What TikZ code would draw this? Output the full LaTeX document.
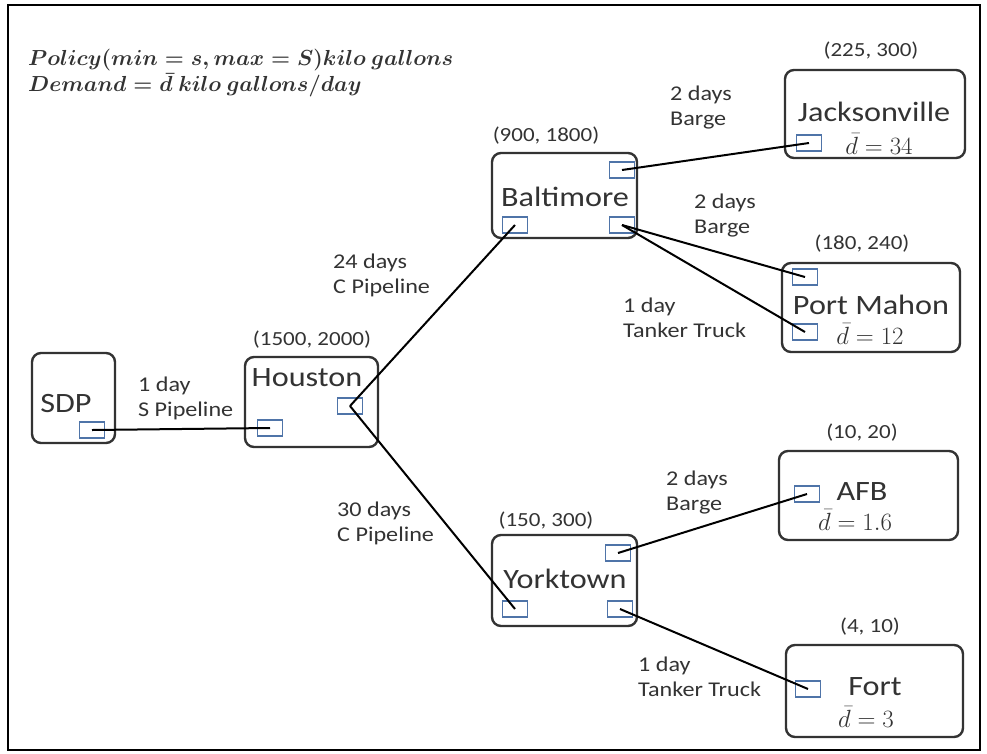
\documentclass[tikz,border=0pt]{standalone}
\usepackage{fontspec}
\setmainfont{Carlito}[FakeStretch=1.15]
\definecolor{boxc}{HTML}{333333}
\definecolor{portc}{HTML}{4F74A8}
\definecolor{txt}{HTML}{333333}
\begin{document}
\begin{tikzpicture}[x=1pt,y=-1pt,
  site/.style={draw=boxc, line width=2.4pt, rounded corners=9pt, fill=white, inner sep=0pt},
  port/.style={draw=portc, line width=1.8pt, fill=white, minimum width=25pt, minimum height=16pt, inner sep=0pt},
  link/.style={line width=2pt, black},
  sitename/.style={font=\fontsize{28}{32}\selectfont, text=txt, inner sep=0pt},
  policy/.style={font=\fontsize{20}{24}\selectfont, text=txt, inner sep=0pt},
  lbl/.style={font=\fontsize{21}{25}\selectfont, text=txt, align=left, anchor=west, inner sep=0pt},
  dem/.style={font=\fontsize{24}{28}\selectfont, text=txt, inner sep=0pt},
  legend/.style={font=\fontsize{20.74}{24}\selectfont\boldmath, text=txt, align=left, anchor=north west, inner sep=0pt}]

\useasboundingbox (0,0) rectangle (987,753);
\draw[line width=2pt, black] (8,5) rectangle (980,750);

% legend
\node[legend] (legend) at (28,48) {\scalebox{1.05}{\begin{tabular}{@{}l@{}}$Policy(min=s, max=S) kilo\ gallons$\\ $Demand=\bar{d}\ kilo\ gallons/day$\end{tabular}}};

% sites
\node[site, minimum width=83pt, minimum height=90pt] (sdp) at (73.5,398) {};
\node[site, minimum width=133pt, minimum height=90pt] (hou) at (311.5,402) {};
\node[site, minimum width=145pt, minimum height=85pt] (bal) at (564.5,195.5) {};
\node[site, minimum width=145pt, minimum height=91pt] (york) at (564.5,580.5) {};
\node[site, minimum width=180pt, minimum height=88pt] (jax) at (875,114) {};
\node[site, minimum width=178pt, minimum height=89pt] (pm) at (871,307.5) {};
\node[site, minimum width=179pt, minimum height=89pt] (afb) at (868.5,495.5) {};
\node[site, minimum width=177pt, minimum height=92pt] (fort) at (874.5,691) {};

% site names
\node[sitename] (sdpname) at (66,404) {SDP};
\node[sitename] (houname) at (307,378) {Houston};
\node[sitename] (balname) at (565,197) {Baltimore};
\node[sitename] (yorkname) at (565,579) {Yorktown};
\node[sitename] (jaxname) at (874,112) {Jacksonville};
\node[sitename] (pmname) at (871,305) {Port Mahon};
\node[sitename] (afbname) at (862,492) {AFB};
\node[sitename] (fortname) at (875,687) {Fort};

% policy levels
\node[policy] (houcap) at (312,340) {(1500, 2000)};
\node[policy] (balcap) at (546,136) {(900, 1800)};
\node[policy] (yorkcap) at (546,521) {(150, 300)};
\node[policy] (jaxcap) at (871,51) {(225, 300)};
\node[policy] (pmcap) at (862,244) {(180, 240)};
\node[policy] (afbcap) at (862,433) {(10, 20)};
\node[policy] (fortcap) at (870,627) {(4, 10)};

% demand rates
\node[dem] (jaxdem) at (879,144) {$\bar{d}=34$};
\node[dem] (pmdem) at (870,334) {$\bar{d}=12$};
\node[dem] (afbdem) at (855,520) {$\bar{d}=1.6$};
\node[dem] (fortdem) at (866,717) {$\bar{d}=3$};

% ports
\node[port] (sdpp) at (92,430) {};
\node[port] (houin) at (270,428) {};
\node[port] (houout) at (350,406) {};
\node[port] (balin) at (515,225) {};
\node[port] (balt) at (622,170) {};
\node[port] (balb) at (622,225) {};
\node[port] (yorkin) at (515,609) {};
\node[port] (yorkt) at (618,553) {};
\node[port] (yorkb) at (620,609) {};
\node[port] (jaxp) at (809,143) {};
\node[port] (pmt) at (805,277) {};
\node[port] (pmb) at (805,332) {};
\node[port] (afbp) at (807,494) {};
\node[port] (fortp) at (808,689) {};

% transport links
\draw[link] (sdpp.center) -- (houin.center);
\draw[link] (houout.center) -- (balin.center);
\draw[link] (houout.center) -- (yorkin.center);
\draw[link] (balt.center) -- (jaxp.center);
\draw[link] (balb.center) -- (pmt.center);
\draw[link] (balb.center) -- (pmb.center);
\draw[link] (yorkt.center) -- (afbp.center);
\draw[link] (yorkb.center) -- (fortp.center);

% link labels
\node[lbl] (l1) at (138,398) {1 day\\S Pipeline};
\node[lbl] (l2) at (333,275) {24 days\\C Pipeline};
\node[lbl] (l3) at (337,523) {30 days\\C Pipeline};
\node[lbl] (l4) at (670,108) {2 days\\Barge};
\node[lbl] (l5) at (694,216) {2 days\\Barge};
\node[lbl] (l6) at (623,318) {1 day\\Tanker Truck};
\node[lbl] (l7) at (666,493) {2 days\\Barge};
\node[lbl] (l8) at (638,677) {1 day\\Tanker Truck};
\end{tikzpicture}
\end{document}
